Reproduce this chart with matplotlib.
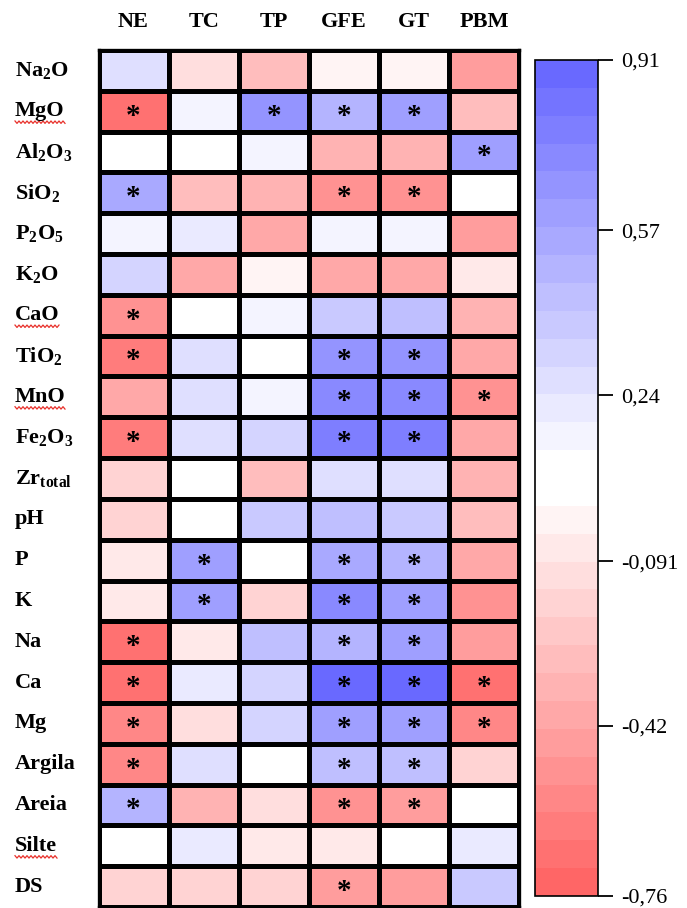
import numpy as np
import matplotlib
matplotlib.use('Agg')
import matplotlib.pyplot as plt
from matplotlib.colors import ListedColormap, BoundaryNorm
from matplotlib import transforms
from matplotlib.lines import Line2D

plt.rcParams['font.family'] = ['Liberation Serif', 'DejaVu Serif']
plt.rcParams['mathtext.fontset'] = 'custom'
plt.rcParams['mathtext.rm'] = 'Liberation Serif:bold'
plt.rcParams['mathtext.it'] = 'Liberation Serif:bold'
plt.rcParams['mathtext.bf'] = 'Liberation Serif:bold'

cols = ['NE', 'TC', 'TP', 'GFE', 'GT', 'PBM']
rows = ['Na$_2$O', 'MgO', 'Al$_2$O$_3$', 'SiO$_2$', 'P$_2$O$_5$', 'K$_2$O', 'CaO',
        'TiO$_2$', 'MnO', 'Fe$_2$O$_3$', 'Zr$_{total}$', 'pH', 'P', 'K', 'Na', 'Ca',
        'Mg', 'Argila', 'Areia', 'Silte', 'DS']
# labels with the red spell-check squiggle in the original
squiggle = ['MgO', 'CaO', 'MnO', 'Silte']

# correlations
corr = np.array([
    [ 0.25, -0.10, -0.30, -0.03, -0.03, -0.45],   # Na2O
    [-0.65,  0.16,  0.64,  0.52,  0.58, -0.30],   # MgO
    [ 0.07,  0.07,  0.16, -0.33, -0.33,  0.60],   # Al2O3
    [ 0.56, -0.30, -0.33, -0.52, -0.52,  0.07],   # SiO2
    [ 0.16,  0.22, -0.40,  0.16,  0.16, -0.45],   # P2O5
    [ 0.32, -0.38, -0.03, -0.40, -0.40, -0.05],   # K2O
    [-0.50,  0.07,  0.16,  0.38,  0.42, -0.36],   # CaO
    [-0.62,  0.25,  0.07,  0.64,  0.64, -0.40],   # TiO2
    [-0.40,  0.27,  0.16,  0.70,  0.72, -0.52],   # MnO
    [-0.64,  0.28,  0.30,  0.76,  0.76, -0.40],   # Fe2O3
    [-0.16,  0.07, -0.30,  0.25,  0.25, -0.37],   # Zr
    [-0.15,  0.07,  0.40,  0.45,  0.40, -0.26],   # pH
    [-0.05,  0.58,  0.07,  0.56,  0.52, -0.40],   # P
    [-0.05,  0.58, -0.15,  0.70,  0.63, -0.50],   # K
    [-0.70, -0.05,  0.45,  0.50,  0.58, -0.45],   # Na
    [-0.70,  0.22,  0.30,  0.88,  0.88, -0.66],   # Ca
    [-0.54, -0.10,  0.34,  0.58,  0.58, -0.56],   # Mg
    [-0.54,  0.25,  0.07,  0.45,  0.45, -0.15],   # Argila
    [ 0.52, -0.33, -0.10, -0.52, -0.48,  0.07],   # Areia
    [ 0.07,  0.22, -0.05, -0.05,  0.07,  0.22],   # Silte
    [-0.16, -0.15, -0.18, -0.45, -0.47,  0.38],   # DS
])

# 1 = marked with * (significant)
sig = np.array([
    [0, 0, 0, 0, 0, 0],
    [1, 0, 1, 1, 1, 0],
    [0, 0, 0, 0, 0, 1],
    [1, 0, 0, 1, 1, 0],
    [0, 0, 0, 0, 0, 0],
    [0, 0, 0, 0, 0, 0],
    [1, 0, 0, 0, 0, 0],
    [1, 0, 0, 1, 1, 0],
    [0, 0, 0, 1, 1, 1],
    [1, 0, 0, 1, 1, 0],
    [0, 0, 0, 0, 0, 0],
    [0, 0, 0, 0, 0, 0],
    [0, 1, 0, 1, 1, 0],
    [0, 1, 0, 1, 1, 0],
    [1, 0, 0, 1, 1, 0],
    [1, 0, 0, 1, 1, 1],
    [1, 0, 0, 1, 1, 1],
    [1, 0, 0, 1, 1, 0],
    [1, 0, 0, 1, 1, 0],
    [0, 0, 0, 0, 0, 0],
    [0, 0, 0, 1, 0, 0],
])

cbar_ticks = [0.91, 0.57, 0.24, -0.091, -0.42, -0.76]
vmin, vmax = -0.76, 0.91

# 14 red steps, 2 white, 14 blue steps
red = np.array([255, 102, 102]) / 255.
blue = np.array([105, 105, 255]) / 255.
white = np.ones(3)
clist = []
for k in range(14, 0, -1):
    clist.append(white + (red - white) * k / 14.)
clist += [white, white]
for k in range(1, 15):
    clist.append(white + (blue - white) * k / 14.)
cmap = ListedColormap(clist)
bounds = np.linspace(vmin, vmax, 31)
norm = BoundaryNorm(bounds, cmap.N)

fig = plt.figure(figsize=(6.87, 9.08), dpi=100)
ax = fig.add_axes([0.1434, 0.001, 0.612, 0.944])

m = ax.pcolormesh(corr, cmap=cmap, norm=norm, edgecolors='k', linewidth=2.2)
ax.set_xlim(0, len(cols))
ax.set_ylim(len(rows), 0)
for sp in ax.spines.values():
    sp.set_linewidth(2.4)

for i in range(len(rows)):
    for j in range(len(cols)):
        if sig[i, j]:
            ax.text(j + 0.5, i + 0.62, '*', ha='center', va='center',
                    fontsize=21, fontweight='bold')

ax.set_yticks([])
ax.xaxis.tick_top()
ax.set_xticks(np.arange(len(cols)) + 0.5)
ax.set_xticklabels(cols, fontsize=16, fontweight='bold')
ax.tick_params(axis='x', length=0, pad=13)

tr = transforms.blended_transform_factory(fig.transFigure, ax.transData)
labels = []
for i, r in enumerate(rows):
    t = fig.text(15 / 687., i + 0.5, r, transform=tr, ha='left', va='center',
                 fontsize=16, fontweight='bold')
    labels.append(t)

cax = fig.add_axes([0.7787, 0.0132, 0.0917, 0.9207])
cb = fig.colorbar(m, cax=cax, ticks=cbar_ticks)
cb.ax.minorticks_off()
cb.ax.set_yticklabels([('%g' % t).replace('.', ',') for t in cbar_ticks], fontsize=16)
cb.ax.tick_params(length=11, width=1.3, pad=6)
cb.outline.set_linewidth(1.2)

# wavy red underline
fig.canvas.draw()
rend = fig.canvas.get_renderer()
for t in labels:
    if t.get_text() in squiggle:
        bb = t.get_window_extent(rend)
        xs = np.arange(bb.x0, bb.x1 + 1, 2.0)
        ys = bb.y0 - 1 + np.where(np.arange(len(xs)) % 2 == 0, 1.2, -1.2)
        fig.add_artist(Line2D(xs, ys, transform=None, color='#e8302a', lw=0.9))

fig.savefig('out.png', dpi=100)
